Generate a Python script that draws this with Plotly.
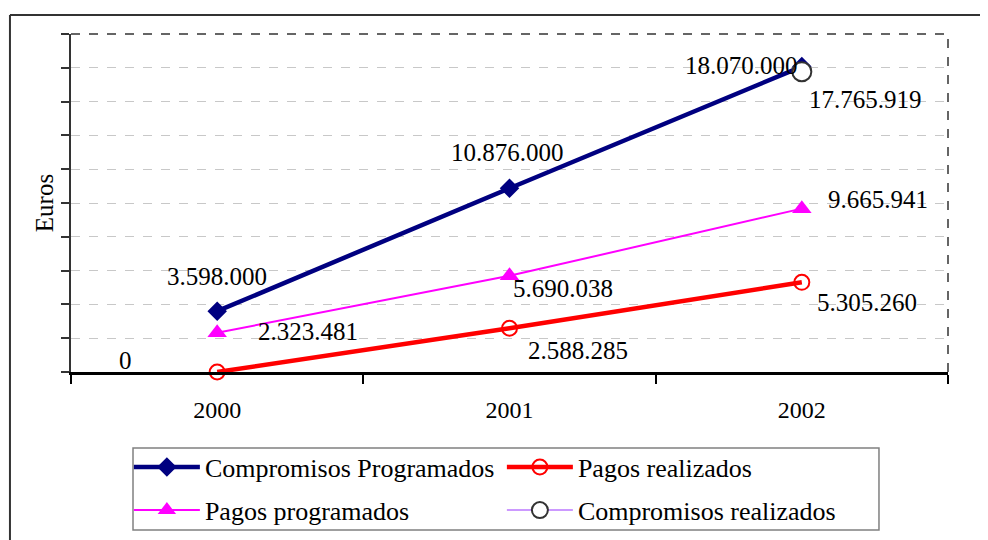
"""Line chart: programmed vs realised commitments and payments (Euros)."""

import plotly.graph_objects as go

years = ["2000", "2001", "2002"]
compromisos_programados = [3598000, 10876000, 18070000]
pagos_programados = [2323481, 5690038, 9665941]
pagos_realizados = [0, 2588285, 5305260]
compromisos_realizados = [None, None, 17765919]

FONT = "Liberation Serif, Times New Roman, serif"


def fmt(v):
    return f"{v:,.0f}".replace(",", ".")


fig = go.Figure()

fig.add_trace(go.Scatter(
    x=years, y=compromisos_programados, name="Compromisos Programados",
    mode="lines+markers", line=dict(color="#000080", width=4.5),
    marker=dict(symbol="diamond", size=15, color="#000080"),
    cliponaxis=False, legend="legend",
))
fig.add_trace(go.Scatter(
    x=years, y=pagos_realizados, name="Pagos realizados",
    mode="lines+markers", line=dict(color="#ff0000", width=4.5),
    marker=dict(symbol="circle-open", size=15, color="#ff0000", line=dict(width=2)),
    cliponaxis=False, legend="legend",
))
fig.add_trace(go.Scatter(
    x=years, y=pagos_programados, name="Pagos programados",
    mode="lines+markers", line=dict(color="#ff00ff", width=2),
    marker=dict(symbol="triangle-up", size=17, color="#ff00ff"),
    cliponaxis=False, legend="legend2",
))
fig.add_trace(go.Scatter(
    x=years, y=compromisos_realizados, name="Compromisos realizados",
    mode="lines+markers", line=dict(color="#cc99ff", width=2),
    marker=dict(symbol="circle", size=19, color="white",
                line=dict(color="#333333", width=2)),
    cliponaxis=False, legend="legend2",
))

# data labels: (series, offsets in px per point)
label_specs = [
    (compromisos_programados, [(0, 35), (-2, 36), (-60, 1)]),
    (pagos_programados, [(91, 1), (53, -13), (76, 9)]),
    (pagos_realizados, [(-92, 12), (68, -22), (65, -20)]),
    (compromisos_realizados, [None, None, (64, -28)]),
]
for values, offsets in label_specs:
    for i, (v, off) in enumerate(zip(values, offsets)):
        if v is None or off is None:
            continue
        # category index, so "2000" is not read as an index itself
        fig.add_annotation(
            x=i, y=v, text=fmt(v), showarrow=False,
            xshift=off[0], yshift=off[1],
            font=dict(family=FONT, size=25, color="black"),
        )

# plot-area border (dashed top/right), chart frame and legend box
fig.add_shape(type="line", xref="paper", yref="paper", x0=0, x1=1, y0=1, y1=1,
              line=dict(color="#333333", width=1.5, dash="dash"))
fig.add_shape(type="line", xref="paper", yref="paper", x0=1, x1=1, y0=0, y1=1,
              line=dict(color="#333333", width=1.5, dash="dash"))
fig.add_shape(type="line", xref="paper", yref="paper", x0=-0.0696, x1=1.2,
              y0=1.0562, y1=1.0562, line=dict(color="#333333", width=2))
fig.add_shape(type="line", xref="paper", yref="paper", x0=-0.0696, x1=-0.0696,
              y0=-1, y1=1.0562, line=dict(color="#333333", width=2))
fig.add_shape(type="rect", xref="paper", yref="paper", x0=0.0707, x1=0.9213,
              y0=-0.4675, y1=-0.2249, line=dict(color="#808080", width=1.5))

legend_common = dict(
    orientation="h", xanchor="left", yanchor="middle", yref="container",
    bgcolor="rgba(0,0,0,0)", borderwidth=0,
    font=dict(family=FONT, size=26, color="black"),
    entrywidth=292, itemwidth=66,
)

# page body has an 8px margin, so the figure is 8px smaller each way
fig.update_layout(
    width=980, height=532,
    margin=dict(l=63, r=40, t=26, b=168),
    paper_bgcolor="white", plot_bgcolor="white",
    font=dict(family=FONT, size=24, color="black"),
    showlegend=True,
    legend=dict(x=0.066, y=0.137, **legend_common),
    legend2=dict(x=0.066, y=0.056, **legend_common),
    xaxis=dict(
        type="category", range=[-0.5, 2.5], tickson="boundaries",
        ticks="outside", ticklen=9, tickwidth=2, tickcolor="black",
        showline=True, linecolor="black", linewidth=3,
        showgrid=False, ticklabelstandoff=14,
        tickfont=dict(family=FONT, size=24),
    ),
    yaxis=dict(
        range=[0, 20000000], dtick=2000000, showticklabels=False,
        ticks="outside", ticklen=8, tickwidth=1.5, tickcolor="#333333",
        showline=True, linecolor="#333333", linewidth=2,
        showgrid=True, gridcolor="#c8c8c8", griddash="dash", gridwidth=1,
        zeroline=False,
        title=dict(text="Euros", standoff=0, font=dict(family=FONT, size=25)),
    ),
)

fig.write_html("out.html")
